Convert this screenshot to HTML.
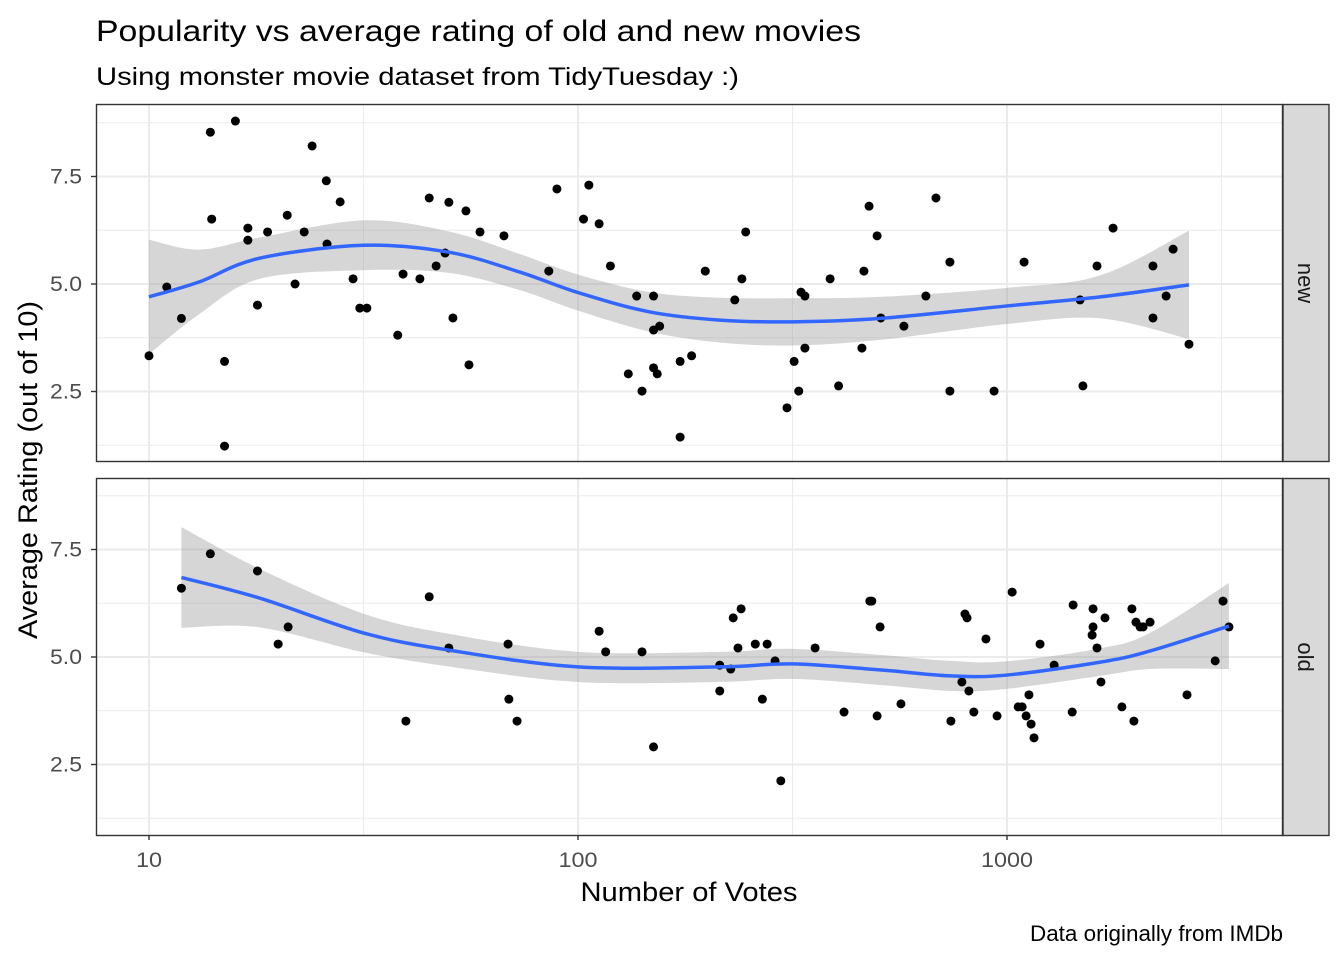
<!DOCTYPE html>
<html><head><meta charset="utf-8"><style>
body{margin:0;background:#fff}
svg text{font-family:"Liberation Sans",Arial,sans-serif}
</style></head><body>
<svg id="chart" width="1344" height="960" xmlns="http://www.w3.org/2000/svg">
<rect width="1344" height="960" fill="#fff"/>
<text x="96" y="41" font-size="30" textLength="765" lengthAdjust="spacingAndGlyphs">Popularity vs average rating of old and new movies</text>
<text x="96" y="85" font-size="25" textLength="643" lengthAdjust="spacingAndGlyphs">Using monster movie dataset from TidyTuesday :)</text>
<text transform="translate(37,470) rotate(-90)" text-anchor="middle" font-size="27" textLength="338" lengthAdjust="spacingAndGlyphs">Average Rating (out of 10)</text>
<text x="689" y="901" text-anchor="middle" font-size="27" textLength="217" lengthAdjust="spacingAndGlyphs">Number of Votes</text>
<text x="1283" y="941" text-anchor="end" font-size="22" textLength="253" lengthAdjust="spacingAndGlyphs">Data originally from IMDb</text>
<g id="plot"></g>
</svg>
<script>
const newVotes=[10,11,11.9,13.9,14,15,15,15.9,17,17,17.9,18.9,21,21.9,23,24,25.9,26,27.9,29.9,31,32.2,38,39.1,42.8,45,46.7,49,50,51.1,54.8,55.7,59.1,67.2,85.5,89.3,103,106,112,119,131,137,141,150,150,150,153,155,173,173,184,198,232,241,246,307,319,327,331,338,338,387,405,464,459,477,498,508,575,647,683,736,736,933,1096,1480,1503,1621,1767,2189,2189,2349,2439,2656];
const newRatings=[3.33,4.93,4.2,8.53,6.51,3.2,1.23,8.79,6.02,6.3,4.51,6.21,6.6,5.0,6.21,8.21,7.4,5.93,6.91,5.12,4.44,4.44,3.81,5.23,5.12,7.0,5.42,5.72,6.9,4.21,6.7,3.12,6.21,6.12,5.3,7.21,6.51,7.3,6.4,5.42,2.91,4.72,2.51,3.93,4.72,3.05,2.91,4.02,1.44,3.2,3.33,5.3,4.63,5.12,6.21,2.12,3.2,2.51,4.81,4.72,3.51,5.12,2.63,5.3,3.51,6.81,6.12,4.21,4.02,4.72,7.0,5.51,2.51,2.51,5.51,4.63,2.63,5.42,6.3,5.42,4.21,4.72,5.81,3.6];
const oldVotes=[11.9,13.9,17.9,20,21.1,39.7,45,50,68.7,69,72.1,112,116,141,150,214,214,227,230,236,240,259,269,276,288,297,357,417,479,484,498,506,566,740,785,798,807,815,837,893,948,1028,1062,1085,1108,1125,1138,1156,1194,1288,1419,1426,1579,1587,1587,1621,1656,1692,1853,1955,1976,1998,2043,2076,2155,2628,3057,3188,3291];
const oldRatings=[6.6,7.4,7.0,5.3,5.7,3.51,6.4,5.21,5.3,4.02,3.51,5.6,5.12,5.12,2.91,4.21,4.81,4.72,5.91,5.21,6.12,5.3,4.02,5.3,4.91,2.12,5.21,3.72,6.3,6.3,3.63,5.7,3.91,3.51,4.42,6.0,5.91,4.21,3.72,5.42,3.63,6.51,3.84,3.84,3.63,4.12,3.44,3.12,5.3,4.81,3.72,6.21,5.51,6.12,5.7,5.21,4.42,5.91,3.84,6.12,3.51,5.81,5.7,5.7,5.81,4.12,4.91,6.3,5.7];
const newFitVotes=[10,13.1,18.1,31.6,50,73,100,147,214,316,506,1000,1650,2656];
const newFit=[4.7,5.05,5.6,5.9,5.74,5.28,4.8,4.35,4.16,4.12,4.2,4.49,4.7,4.98];
const newSe=[1.33,0.75,0.48,0.58,0.48,0.42,0.42,0.46,0.52,0.55,0.5,0.42,0.5,1.26];
const oldFitVotes=[11.9,18.1,31.6,50,100,214,316,506,740,1000,1650,2155,3291];
const oldFit=[6.85,6.37,5.56,5.16,4.77,4.77,4.84,4.7,4.56,4.58,4.88,5.14,5.72];
const oldSe=[1.17,0.68,0.45,0.38,0.35,0.35,0.35,0.35,0.35,0.32,0.32,0.42,1.0];
const xTicks=[10,100,1000];
const xTickLabels=["10","100","1000"];
const yTicks=[2.5,5.0,7.5];
const yTickLabels=["2.5","5.0","7.5"];

const NS="http://www.w3.org/2000/svg";
const L=96,R=1283;
const xs=v=>149+(Math.log10(v)-1)*429;
function mk(tag,attrs,parent){const e=document.createElementNS(NS,tag);for(const k in attrs)e.setAttribute(k,attrs[k]);parent.appendChild(e);return e;}
function smooth(pts){let d="M"+pts[0][0]+","+pts[0][1];for(let i=0;i<pts.length-1;i++){const p0=pts[i-1]||pts[i],p1=pts[i],p2=pts[i+1],p3=pts[i+2]||p2;d+=" C"+(p1[0]+(p2[0]-p0[0])/6)+","+(p1[1]+(p2[1]-p0[1])/6)+" "+(p2[0]-(p3[0]-p1[0])/6)+","+(p2[1]-(p3[1]-p1[1])/6)+" "+p2[0]+","+p2[1];}return d;}
const plot=document.getElementById('plot');
function panel(name,top,y5,votes,ratings,fv,fit,se,label){
  const bottom=top+358;
  const ys=r=>y5-(r-5)*43;
  const g=mk('g',{},plot);
  
  
  mk('rect',{x:L,y:top,width:R-L,height:bottom-top,fill:'#fff'},g);
  [1.25,3.75,6.25,8.75].forEach(v=>{const y=ys(v);if(y>top&&y<bottom)mk('line',{x1:L,x2:R,y1:y,y2:y,stroke:'#ebebeb','stroke-width':1},g);});
  [31.62,316.2,3162].forEach(v=>mk('line',{x1:xs(v),x2:xs(v),y1:top,y2:bottom,stroke:'#ebebeb','stroke-width':1},g));
  yTicks.forEach(v=>mk('line',{x1:L,x2:R,y1:ys(v),y2:ys(v),stroke:'#ebebeb','stroke-width':2},g));
  xTicks.forEach(v=>mk('line',{x1:xs(v),x2:xs(v),y1:top,y2:bottom,stroke:'#ebebeb','stroke-width':2},g));
  const hi=fv.map((v,i)=>[xs(v),ys(fit[i]+se[i])]);
  const lo=fv.map((v,i)=>[xs(v),ys(fit[i]-se[i])]).reverse();
  const rib=mk('path',{d:smooth(hi)+" L"+lo[0][0]+","+lo[0][1]+" "+smooth(lo).slice(1)+" Z",fill:'#999','fill-opacity':0.4},g);
  
  
  votes.forEach((v,i)=>{const c=mk('circle',{cx:xs(v),cy:ys(ratings[i]),r:4.5,fill:'#000'},g);
    
    });
  const ln=mk('path',{d:smooth(fv.map((v,i)=>[xs(v),ys(fit[i])])),fill:'none',stroke:'#3366ff','stroke-width':3.5},g);
  
  
  mk('rect',{x:L+0.5,y:top+0.5,width:R-L-1,height:bottom-top-1,fill:'none',stroke:'#333','stroke-width':1.4},g);
  const st=mk('rect',{x:R,y:top+0.5,width:46,height:bottom-top-1,fill:'#d9d9d9',stroke:'#333','stroke-width':1.4},g);
  
  
  const tx=mk('text',{transform:`translate(${R+15},${(top+bottom)/2}) rotate(90)`,'text-anchor':'middle','font-size':22,fill:'#1a1a1a'},g);
  tx.textContent=label;
  
  
  yTicks.forEach((v,i)=>{mk('line',{x1:L-5,x2:L,y1:ys(v),y2:ys(v),stroke:'#333','stroke-width':1.4},g);
    const t=mk('text',{x:L-14,y:ys(v)+7,'text-anchor':'end','font-size':21,fill:'#4d4d4d',textLength:32,lengthAdjust:'spacingAndGlyphs'},g);t.textContent=yTickLabels[i];
    
    });
}
panel('new',104,284,newVotes,newRatings,newFitVotes,newFit,newSe,'new');
panel('old',478,657,oldVotes,oldRatings,oldFitVotes,oldFit,oldSe,'old');
xTicks.forEach((v,i)=>{mk('line',{x1:xs(v),x2:xs(v),y1:835,y2:840,stroke:'#333','stroke-width':1.4},plot);
  const t=mk('text',{x:xs(v),y:867,'text-anchor':'middle','font-size':21,fill:'#4d4d4d',textLength:13*xTickLabels[i].length,lengthAdjust:'spacingAndGlyphs'},plot);t.textContent=xTickLabels[i];
  
  });
</script>
</body></html>
